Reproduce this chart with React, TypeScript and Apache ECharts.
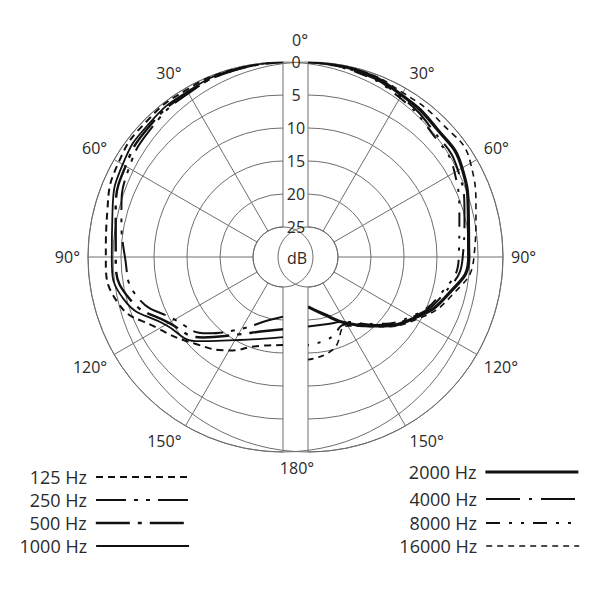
import React, { useEffect, useRef } from 'react';
import * as echarts from 'echarts';

// left half of the plot: low frequencies, right half: high frequencies
const leftAngles = [180, 195, 210, 225, 240, 255, 270, 285, 300, 315, 330, 345, 360];
const rightAngles = [0, 15, 30, 45, 60, 75, 90, 105, 120, 135, 150, 165, 180];

const leftNames = ['125 Hz', '250 Hz', '500 Hz', '1000 Hz'];
const rightNames = ['2000 Hz', '4000 Hz', '8000 Hz', '16000 Hz'];

// attenuation in dB
const db125 = [16.2, 15.6, 13.2, 10.9, 7.8, 3.5, 2.7, 2.0, 0.8, 0.4, 0.3, 0.1, 0];
const db250 = [20.5, 19.5, 17.0, 13.2, 10.6, 6.6, 5.6, 4.2, 2.6, 1.6, 0.9, 0.3, 0];
const db500 = [18.6, 17.9, 16.0, 12.3, 9.6, 5.4, 4.2, 3.3, 2.0, 1.2, 0.8, 0.3, 0];
const db1000 = [17.4, 16.7, 15.0, 11.5, 9.0, 4.6, 3.6, 2.8, 1.5, 0.9, 0.6, 0.2, 0];

const db2000 = [0, 0.3, 1.2, 2.0, 2.6, 4.4, 5.2, 7.6, 11.0, 14.8, 18.0, 20.6, 22.0];
const db4000 = [0, 0.5, 1.5, 2.6, 3.3, 5.0, 6.1, 8.2, 11.3, 15.0, 18.2, 19.0, 19.0];
const db8000 = [0, 0.6, 1.7, 3.0, 3.9, 5.8, 6.7, 8.6, 11.5, 15.2, 17.8, 16.8, 16.2];
const db16000 = [0, 0.2, 0.8, 0.9, 1.1, 3.2, 4.4, 7.0, 10.6, 14.6, 17.5, 15.0, 14.0];

const leftValues = [db125, db250, db500, db1000];
const rightValues = [db2000, db4000, db8000, db16000];

// line looks per frequency
const leftLooks = [
  { width: 2, type: [7, 5] },
  { width: 2, type: [30, 8, 4, 8, 4, 8] },
  { width: 2.4, type: [34, 8, 4, 8] },
  { width: 1.8, type: 'solid' },
];
const rightLooks = [
  { width: 3.2, type: 'solid' },
  { width: 2, type: [34, 9, 3, 9] },
  { width: 2, type: [14, 9, 3, 9, 3, 9] },
  { width: 1.6, type: [6, 5] },
];

const leftLegendY = [477, 500, 523, 546];
const rightLegendY = [472, 499, 523, 546];

const FONT = 'Open Sans';
const TEXT = '#2a2a2a';
const GRID = '#6e6e6e';

const App: React.FC = () => {
  const chartRef = useRef<HTMLDivElement>(null);

  useEffect(() => {
    const chart = echarts.init(chartRef.current, null, { renderer: 'svg' });

    const radiusAxisBase = {
      type: 'value',
      min: 0,
      max: 25,
      interval: 5,
      inverse: true,
      axisLine: { show: false },
      axisTick: { show: false },
      splitLine: { lineStyle: { color: GRID, width: 1 } },
    };

    const angleAxisBase = {
      type: 'value',
      interval: 30,
      clockwise: true,
      axisLine: { lineStyle: { color: GRID, width: 1 } },
      axisTick: { show: false },
      splitLine: { lineStyle: { color: GRID, width: 1 } },
    };

    const labelStyle = { color: TEXT, fontSize: 16, fontFamily: FONT };

    const series: any[] = [];
    leftNames.forEach((name, i) => {
      series.push({
        name,
        type: 'line',
        coordinateSystem: 'polar',
        polarIndex: 0,
        smooth: true,
        symbol: 'none',
        silent: true,
        lineStyle: { color: '#111', width: leftLooks[i].width, type: leftLooks[i].type },
        data: leftAngles.map((a, j) => [leftValues[i][j], a]),
      });
    });
    rightNames.forEach((name, i) => {
      series.push({
        name,
        type: 'line',
        coordinateSystem: 'polar',
        polarIndex: 1,
        smooth: true,
        symbol: 'none',
        silent: true,
        lineStyle: { color: '#111', width: rightLooks[i].width, type: rightLooks[i].type },
        data: rightAngles.map((a, j) => [rightValues[i][j], a]),
      });
    });

    const legend: any[] = [];
    const makeLegend = (name: string, look: any, right: number, y: number) => ({
      data: [name],
      orient: 'horizontal',
      right,
      top: y - 12,
      padding: 0,
      itemWidth: 93,
      itemHeight: 12,
      align: 'right',
      selectedMode: false,
      itemStyle: { opacity: 0 },
      lineStyle: { width: look.width, type: look.type, color: '#111' },
      textStyle: { color: TEXT, fontSize: 18, fontFamily: FONT, lineHeight: 24, padding: [0, 4, 0, 0] },
    });
    leftNames.forEach((n, i) => legend.push(makeLegend(n, leftLooks[i], 410, leftLegendY[i])));
    rightNames.forEach((n, i) => legend.push(makeLegend(n, rightLooks[i], 20, rightLegendY[i])));

    const option = {
      animation: false,
      polar: [
        { center: [283, 257], radius: [30, 195] },
        { center: [308, 257], radius: [30, 195] },
      ],
      angleAxis: [
        {
          ...angleAxisBase,
          polarIndex: 0,
          min: 180,
          max: 360,
          startAngle: 270,
          endAngle: 90,
          axisLabel: {
            ...labelStyle,
            margin: 8,
            formatter: (v: number) => (v === 180 || v === 360 ? '' : 360 - v + '°'),
          },
        },
        {
          ...angleAxisBase,
          polarIndex: 1,
          min: 0,
          max: 180,
          startAngle: 90,
          endAngle: -90,
          axisLabel: {
            ...labelStyle,
            margin: 8,
            formatter: (v: number) => (v === 0 ? '{a|0°}' : v === 180 ? '{b|180°}' : v + '°'),
            rich: {
              a: { ...labelStyle, padding: [0, 16, 6, 0] },
              b: { ...labelStyle, padding: [0, 22, 0, 0] },
            },
          },
        },
      ],
      radiusAxis: [
        { ...radiusAxisBase, polarIndex: 0, axisLabel: { show: false } },
        {
          ...radiusAxisBase,
          polarIndex: 1,
          axisLabel: { ...labelStyle, margin: 12, align: 'center', verticalAlign: 'middle' },
        },
      ],
      legend,
      graphic: [
        {
          type: 'text',
          x: 297,
          y: 258,
          style: { text: 'dB', align: 'center', verticalAlign: 'middle', fontSize: 16, fontFamily: FONT, fill: TEXT },
        },
      ],
      series,
    };

    chart.setOption(option);

    return () => {
      chart.dispose();
    };
  }, []);

  return <div ref={chartRef} style={{ position: 'absolute', left: 0, top: 0, width: '600px', height: '600px' }} />;
};

export default App;
